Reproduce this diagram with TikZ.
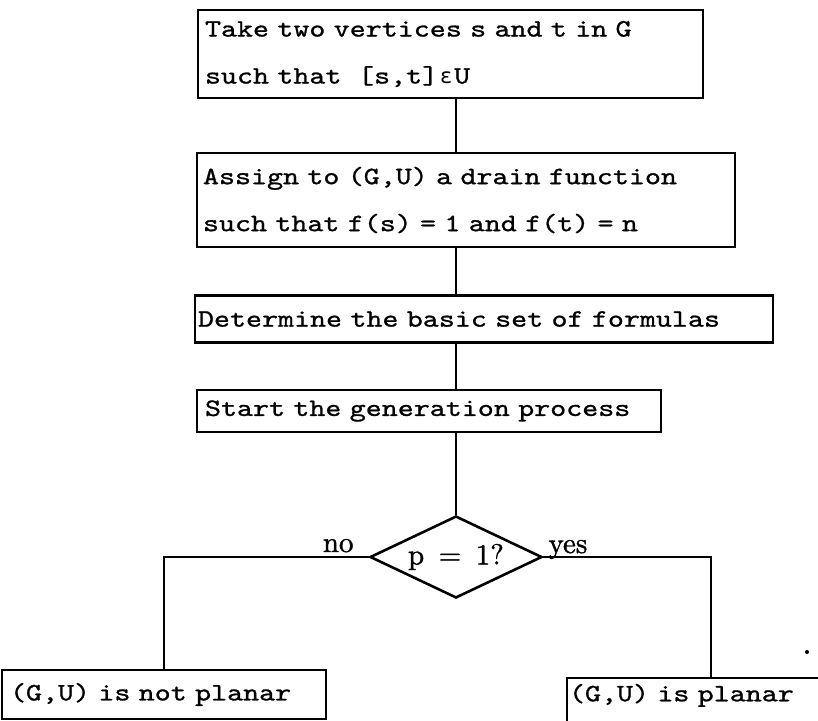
\documentclass[tikz,border=0pt]{standalone}
\usepackage{fontspec}
\usetikzlibrary{shapes.geometric}
\newfontfamily\twfont{lmmono10-regular}[Extension=.otf,FakeStretch=1.22,FakeBold=1]
\newfontfamily\lblfont{lmroman10-regular}[Extension=.otf,FakeBold=1.2]
\newfontfamily\grkfont{DejaVu Sans Mono}
\newcommand{\epsglyph}{\makebox[16pt]{\fontsize{21}{47}\grkfont ε}}
\begin{document}
\begin{tikzpicture}[x=1pt,y=-1pt,
  ln/.style={line width=2.5pt},
  box/.style={draw, line width=2.4pt, rectangle, inner ysep=0pt, align=left,
    font=\fontsize{25}{47}\twfont},
  dec/.style={draw, diamond, shape aspect=2.1, line width=2.6pt, inner sep=0pt,
    minimum width=172pt, minimum height=82pt, font=\fontsize{29}{34}\lblfont},
  lab/.style={inner sep=0pt, font=\fontsize{29}{34}\lblfont}]
\useasboundingbox (0,0) rectangle (818,720);
\clip (0,0) rectangle (818,720);

\node[box, inner xsep=7pt, minimum width=505pt, text width=491pt, minimum height=88pt]
  (b1) at (450.5,54) {Take two vertices s and t in G\\such that\ \ [s,t]\epsglyph U};
\node[box, inner xsep=6pt, minimum width=538pt, text width=526pt, minimum height=94pt]
  (b2) at (466,200) {Assign to (G,U) a drain function\\such that f(s) = 1 and f(t) = n};
\node[box, inner xsep=3pt, minimum width=578pt, text width=572pt, minimum height=47pt]
  (b3) at (484,319) {Determine the basic set of formulas};
\node[box, inner xsep=8pt, minimum width=464pt, text width=448pt, minimum height=42pt]
  (b4) at (429,411) {Start the generation process};
\node[dec] (d) at (456,557) {p\,\ =\ \,1?};
\node[box, inner xsep=8pt, minimum width=324pt, text width=308pt, minimum height=49pt]
  (l) at (164,694.5) {(G,U) is not planar};
\node[box, inner xsep=2pt, minimum width=288pt, text width=284pt, minimum height=48pt,
  text depth=18.75pt] (r) at (711,702) {(G,U) is planar};

\draw[ln] (b1.south -| d.north) -- (b2.north -| d.north);
\draw[ln] (b2.south -| d.north) -- (b3.north -| d.north);
\draw[ln] (b3.south -| d.north) -- (b4.north -| d.north);
\draw[ln] (b4.south -| d.north) -- (d.north);
\draw[ln] (d.west) -- (d.west -| l.north) -- (l.north);
\draw[ln] (d.east) -- (d.east -| r.north) -- (r.north);

\node[lab, anchor=base east] (no) at ([xshift=-15pt, yshift=5pt]d.west) {no};
\node[lab, anchor=base west] (yes) at ([xshift=5pt, yshift=4pt]d.east) {yes};
\fill (807,652) circle (2pt);
\end{tikzpicture}
\end{document}
